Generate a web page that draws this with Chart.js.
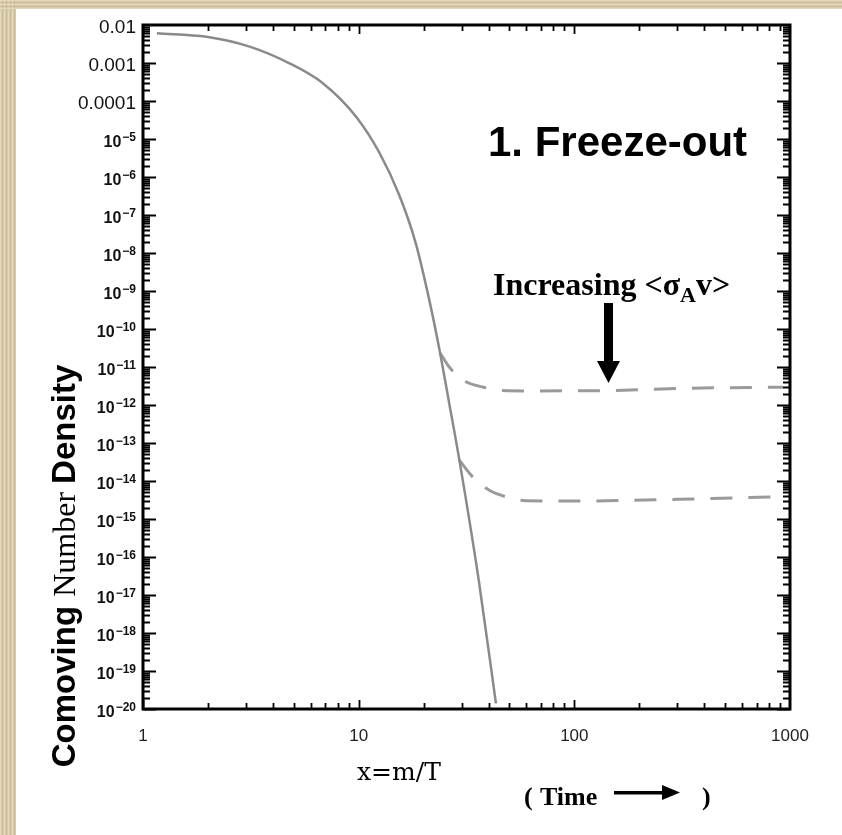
<!DOCTYPE html>
<html>
<head>
<meta charset="utf-8">
<script src="https://cdn.jsdelivr.net/npm/chart.js@4.4.1/dist/chart.umd.min.js"></script>
<style>
  html, body { margin: 0; padding: 0; background: #fff; }
  #wrap { width: 842px; height: 835px; position: relative; }
</style>
</head>
<body>
<div id="wrap"><canvas id="freezeChart"></canvas></div>
<script>
// ---- values ----
// equilibrium curve (solid)
const eqX = [1.16, 1.97, 3.12, 4.78, 6.8, 9.73, 12.5, 15.4, 18.4, 21.2, 23.6, 26.3, 29.2, 36.1, 43.3];
const eqY = [6.05e-3, 4.9e-3, 2.7e-3, 9.8e-4, 2.98e-4, 3.86e-5, 4.28e-6, 3.4e-7, 1.8e-8, 6.2e-10, 3.2e-11, 1.1e-12, 4.0e-14, 2.3e-17, 1.4e-20];

// freeze-out, smaller cross section (upper dashed)
const upperX = [23.9, 26.3, 28.5, 31.4, 37.4, 46.3, 61.5, 144, 326, 929];
const upperY = [2.3e-11, 1.0e-11, 6.2e-12, 4.1e-12, 3.0e-12, 2.4e-12, 2.35e-12, 2.4e-12, 2.75e-12, 2.95e-12];

// freeze-out, larger cross section (lower dashed)
const lowerX = [29.2, 33.7, 40.2, 48.0, 59.4, 104.8, 304, 929];
const lowerY = [3.6e-14, 1.3e-14, 5.8e-15, 3.86e-15, 3.03e-15, 2.98e-15, 3.3e-15, 3.9e-15];

// axis ticks
const xTickValues = [1, 10, 100, 1000];
const xTickLabels = ['1', '10', '100', '1000'];
const yTickValues = [1e-2, 1e-3, 1e-4, 1e-5, 1e-6, 1e-7, 1e-8, 1e-9, 1e-10, 1e-11, 1e-12,
                     1e-13, 1e-14, 1e-15, 1e-16, 1e-17, 1e-18, 1e-19, 1e-20];
const yTickLabels = ['0.01', '0.001', '0.0001', '10^-5', '10^-6', '10^-7', '10^-8', '10^-9', '10^-10',
                     '10^-11', '10^-12', '10^-13', '10^-14', '10^-15', '10^-16', '10^-17', '10^-18',
                     '10^-19', '10^-20'];

const toPoints = (xs, ys) => xs.map((v, i) => ({ x: v, y: ys[i] }));

const SANS = '"Liberation Sans", Arial, sans-serif';
const SERIF = '"Liberation Serif", "Times New Roman", serif';

// ---- background, frame, inward ticks, labels and annotations ----
const decor = {
    id: 'decor',
    beforeDraw(chart) {
        const ctx = chart.ctx;
        ctx.save();
        // beige paper strip on the top and left edges
        ctx.fillStyle = '#d8cbab';
        ctx.fillRect(0, 0, chart.width, chart.height);
        for (let i = 0; i < 16; i += 2) {
            ctx.fillStyle = i % 4 ? '#cbbb98' : '#e4d9c0';
            ctx.fillRect(i, 0, 1, chart.height);
        }
        for (let j = 0; j < 9; j += 2) {
            ctx.fillStyle = j % 4 ? '#cdbd9b' : '#e2d6bb';
            ctx.fillRect(0, j, chart.width, 1);
        }
        ctx.fillStyle = '#fff';
        ctx.fillRect(16, 9, chart.width - 16, chart.height - 9);
        ctx.restore();
    },
    afterDraw(chart) {
        const { ctx, chartArea: a, scales: { x, y } } = chart;
        ctx.save();
        ctx.strokeStyle = '#000';

        // y ticks (left + right, pointing inward)
        ctx.lineWidth = 1.8;
        for (let d = -20; d < -2; d++) {
            for (let k = 1; k <= 9; k++) {
                const v = k * Math.pow(10, d);
                const py = Math.round(y.getPixelForValue(v)) + 0.5;
                const len = k === 1 ? 13 : 7;
                ctx.beginPath();
                ctx.moveTo(a.left, py); ctx.lineTo(a.left + len, py);
                ctx.moveTo(a.right, py); ctx.lineTo(a.right - len, py);
                ctx.stroke();
            }
        }
        // x ticks (bottom + top, pointing inward)
        for (let d = 0; d < 3; d++) {
            for (let k = 1; k <= 9; k++) {
                const v = k * Math.pow(10, d);
                const px = Math.round(x.getPixelForValue(v)) + 0.5;
                const len = k === 1 ? 9 : 6;
                ctx.beginPath();
                ctx.moveTo(px, a.bottom); ctx.lineTo(px, a.bottom - len);
                ctx.moveTo(px, a.top); ctx.lineTo(px, a.top + len);
                ctx.stroke();
            }
        }
        // frame
        ctx.lineWidth = 3;
        ctx.strokeRect(a.left, a.top, a.right - a.left, a.bottom - a.top);

        // y tick labels
        ctx.fillStyle = '#111';
        ctx.textBaseline = 'alphabetic';
        const labelRight = a.left - 7;
        yTickValues.forEach((v, i) => {
            const py = y.getPixelForValue(v);
            const lab = yTickLabels[i];
            if (lab.indexOf('^') < 0) {
                ctx.font = '19px ' + SANS;
                ctx.textAlign = 'right';
                ctx.fillText(lab, labelRight, py + 8);
            } else {
                const [base, exp] = lab.split('^');
                const expText = exp.replace('-', '\u2212');
                ctx.textAlign = 'left';
                ctx.font = 'bold 12px ' + SANS;
                const ew = ctx.measureText(expText).width;
                ctx.font = 'bold 16px ' + SANS;
                const bw = ctx.measureText(base).width;
                ctx.fillText(base, labelRight - ew - bw - 1, py + 8);
                ctx.font = 'bold 12px ' + SANS;
                ctx.fillText(expText, labelRight - ew, py + 2);
            }
        });

        // y axis title (mixed fonts, rotated)
        ctx.save();
        ctx.translate(65, 566);
        ctx.rotate(-Math.PI / 2);
        const parts = [
            ['Comoving ', 'bold 33px ' + SANS],
            ['Number ', '32px ' + SERIF],
            ['Density', 'bold 33px ' + SANS]
        ];
        let total = 0;
        parts.forEach(p => { ctx.font = p[1]; total += ctx.measureText(p[0]).width; });
        let cx = -total / 2;
        ctx.textAlign = 'left';
        ctx.fillStyle = '#000';
        parts.forEach(p => { ctx.font = p[1]; ctx.fillText(p[0], cx, 10); cx += ctx.measureText(p[0]).width; });
        ctx.restore();

        // x axis title
        ctx.fillStyle = '#000';
        ctx.textAlign = 'left';
        ctx.font = '25px "DejaVu Serif", serif';
        ctx.fillText('x=m/T', 357, 780);

        // ( Time --> )
        ctx.font = 'bold 26px ' + SERIF;
        ctx.fillText('(', 524, 805);
        ctx.fillText('Time', 540, 805);
        ctx.fillText(')', 702, 805);
        ctx.fillRect(614, 791, 52, 3.5);
        ctx.beginPath();
        ctx.moveTo(662, 785); ctx.lineTo(680, 792.5); ctx.lineTo(662, 800); ctx.closePath();
        ctx.fill();

        // panel title
        ctx.font = 'bold 42px ' + SANS;
        ctx.fillText('1. Freeze-out', 488, 156);

        // Increasing <sigma_A v>
        ctx.font = 'bold 32px ' + SERIF;
        let tx = 493;
        ctx.fillText('Increasing <\u03c3', tx, 295);
        tx += ctx.measureText('Increasing <\u03c3').width;
        ctx.font = 'bold 22px ' + SERIF;
        ctx.fillText('A', tx, 302);
        tx += ctx.measureText('A').width;
        ctx.font = 'bold 32px ' + SERIF;
        ctx.fillText('v>', tx, 295);

        // down arrow
        ctx.fillRect(604, 303, 9, 60);
        ctx.beginPath();
        ctx.moveTo(597, 361); ctx.lineTo(620, 361); ctx.lineTo(608.5, 383); ctx.closePath();
        ctx.fill();

        ctx.restore();
    }
};

new Chart(document.getElementById('freezeChart'), {
    type: 'scatter',
    data: {
        datasets: [{
            label: 'Equilibrium',
            data: toPoints(eqX, eqY),
            showLine: true,
            borderColor: '#8a8a8a',
            borderWidth: 2.5,
            pointRadius: 0,
            cubicInterpolationMode: 'monotone'
        }, {
            label: 'Smaller <σAv>',
            data: toPoints(upperX, upperY),
            showLine: true,
            borderColor: '#9a9a9a',
            borderWidth: 3,
            borderDash: [22, 16],
            pointRadius: 0,
            cubicInterpolationMode: 'monotone'
        }, {
            label: 'Larger <σAv>',
            data: toPoints(lowerX, lowerY),
            showLine: true,
            borderColor: '#9a9a9a',
            borderWidth: 3,
            borderDash: [22, 16],
            pointRadius: 0,
            cubicInterpolationMode: 'monotone'
        }]
    },
    options: {
        responsive: true,
        maintainAspectRatio: false,
        animation: false,
        layout: { padding: { left: 0, top: 25, right: 52, bottom: 0 } },
        plugins: {
            legend: { display: false },
            tooltip: { enabled: false }
        },
        scales: {
            x: {
                type: 'logarithmic',
                min: 1,
                max: 1000,
                afterBuildTicks: s => { s.ticks = xTickValues.map(v => ({ value: v })); },
                afterFit: s => { s.height = 126; },
                grid: { display: false, drawTicks: false },
                border: { display: false },
                ticks: {
                    color: '#222',
                    padding: 17,
                    maxRotation: 0,
                    font: { family: SANS, size: 17 },
                    callback: v => xTickLabels[xTickValues.indexOf(v)]
                }
            },
            y: {
                type: 'logarithmic',
                min: 1e-20,
                max: 1e-2,
                afterBuildTicks: s => { s.ticks = yTickValues.map(v => ({ value: v })); },
                afterFit: s => { s.width = 143; },
                grid: { display: false, drawTicks: false },
                border: { display: false },
                ticks: { display: false }
            }
        }
    },
    plugins: [decor]
});
</script>
</body>
</html>
